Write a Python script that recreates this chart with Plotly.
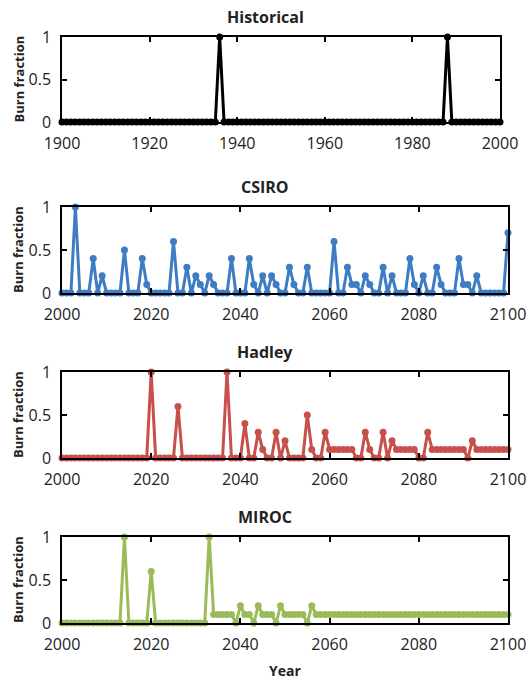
import plotly.graph_objects as go

hist_years = list(range(1900, 2001))
hist_burn = [1.0 if y in (1936, 1988) else 0.0 for y in hist_years]

fut_years = list(range(2000, 2101))

csiro_burn = [
    0, 0, 0, 1.0, 0, 0, 0, 0.4, 0, 0.2,
    0, 0, 0, 0, 0.5, 0, 0, 0, 0.4, 0.1,
    0, 0, 0, 0, 0, 0.6, 0, 0, 0.3, 0,
    0.2, 0.1, 0, 0.2, 0.1, 0, 0, 0, 0.4, 0,
    0, 0, 0.4, 0.1, 0, 0.2, 0, 0.2, 0.1, 0,
    0, 0.3, 0.1, 0, 0, 0.3, 0, 0, 0, 0,
    0, 0.6, 0, 0, 0.3, 0.1, 0.1, 0, 0.2, 0.1,
    0, 0, 0.3, 0, 0.2, 0, 0, 0, 0.4, 0.1,
    0, 0.2, 0, 0, 0.3, 0.1, 0, 0, 0, 0.4,
    0.1, 0.1, 0, 0.2, 0, 0, 0, 0, 0, 0,
    0.7,
]

hadley_burn = [
    0, 0, 0, 0, 0, 0, 0, 0, 0, 0,
    0, 0, 0, 0, 0, 0, 0, 0, 0, 0,
    1.0, 0, 0, 0, 0, 0, 0.6, 0, 0, 0,
    0, 0, 0, 0, 0, 0, 0, 1.0, 0, 0,
    0, 0.4, 0, 0, 0.3, 0.1, 0, 0, 0.3, 0,
    0.2, 0, 0, 0, 0, 0.5, 0.1, 0, 0, 0.3,
    0.1, 0.1, 0.1, 0.1, 0.1, 0.1, 0, 0, 0.3, 0.1,
    0, 0, 0.3, 0, 0.2, 0.1, 0.1, 0.1, 0.1, 0.1,
    0, 0, 0.3, 0.1, 0.1, 0.1, 0.1, 0.1, 0.1, 0.1,
    0.1, 0, 0.2, 0.1, 0.1, 0.1, 0.1, 0.1, 0.1, 0.1,
    0.1,
]

miroc_burn = [
    0, 0, 0, 0, 0, 0, 0, 0, 0, 0,
    0, 0, 0, 0, 1.0, 0, 0, 0, 0, 0,
    0.6, 0, 0, 0, 0, 0, 0, 0, 0, 0,
    0, 0, 0, 1.0, 0.1, 0.1, 0.1, 0.1, 0.1, 0,
    0.2, 0.1, 0.1, 0, 0.2, 0.1, 0.1, 0.1, 0, 0.2,
    0.1, 0.1, 0.1, 0.1, 0.1, 0, 0.2, 0.1, 0.1, 0.1,
] + [0.1] * 41

panels = [
    ("Historical", hist_years, hist_burn, "#000000", [1900, 2000], list(range(1900, 2001, 20))),
    ("CSIRO", fut_years, csiro_burn, "#3E7CC3", [2000, 2100], list(range(2000, 2101, 20))),
    ("Hadley", fut_years, hadley_burn, "#C8504B", [2000, 2100], list(range(2000, 2101, 20))),
    ("MIROC", fut_years, miroc_burn, "#9BBB59", [2000, 2100], list(range(2000, 2101, 20))),
]

W, H = 530, 680
# plot boxes in pixels: (left, right, top, bottom)
boxes = [(62, 500, 37, 122), (62, 508, 207, 293), (62, 508, 372, 458), (62, 508, 537, 623)]
title_y = [17, 187, 352, 517]

FONT = "Open Sans"
fig = go.Figure()
annotations = []
for i, ((name, xs, ys, color, xr, xt), (l, r, t, b)) in enumerate(zip(panels, boxes)):
    n = "" if i == 0 else str(i + 1)
    fig.add_trace(go.Scatter(
        x=xs, y=ys, mode="lines+markers",
        line=dict(color=color, width=3),
        marker=dict(color=color, size=7),
        xaxis="x" + n, yaxis="y" + n, cliponaxis=False, showlegend=False,
    ))
    common = dict(showline=True, linecolor="black", linewidth=1.5, mirror="ticks",
                  ticks="inside", ticklen=5, tickwidth=1.5, tickcolor="black",
                  showgrid=False, zeroline=False, automargin=False,
                  tickfont=dict(family=FONT, size=16, color="#222"))
    fig.update_layout(**{
        "xaxis" + n: dict(domain=[l / W, r / W], range=xr, tickvals=xt,
                          anchor="y" + n, ticklabelstandoff=6, **common),
        "yaxis" + n: dict(domain=[1 - b / H, 1 - t / H], range=[0, 1],
                          tickvals=[0, 0.5, 1], ticktext=["0", "0.5", "1"],
                          anchor="x" + n, ticklabelstandoff=6, **common),
    })
    annotations.append(dict(text="<b>%s</b>" % name, x=0.5, y=1 - title_y[i] / H,
                            xref="paper", yref="paper", showarrow=False,
                            font=dict(family=FONT, size=16, color="#222"),
                            xanchor="center", yanchor="middle"))
    annotations.append(dict(text="<b>Burn fraction</b>", x=18 / W, y=1 - (t + b) / 2 / H,
                            xref="paper", yref="paper", showarrow=False, textangle=-90,
                            font=dict(family=FONT, size=13, color="#222"),
                            xanchor="center", yanchor="middle"))

annotations.append(dict(text="<b>Year</b>", x=285 / W, y=1 - 670 / H, xref="paper", yref="paper",
                        showarrow=False, font=dict(family=FONT, size=14, color="#222"),
                        xanchor="center", yanchor="middle"))

fig.update_layout(width=W, height=H, margin=dict(l=0, r=0, t=0, b=0),
                  paper_bgcolor="white", plot_bgcolor="white",
                  annotations=annotations, font=dict(family=FONT))
fig.write_html("out.html")
